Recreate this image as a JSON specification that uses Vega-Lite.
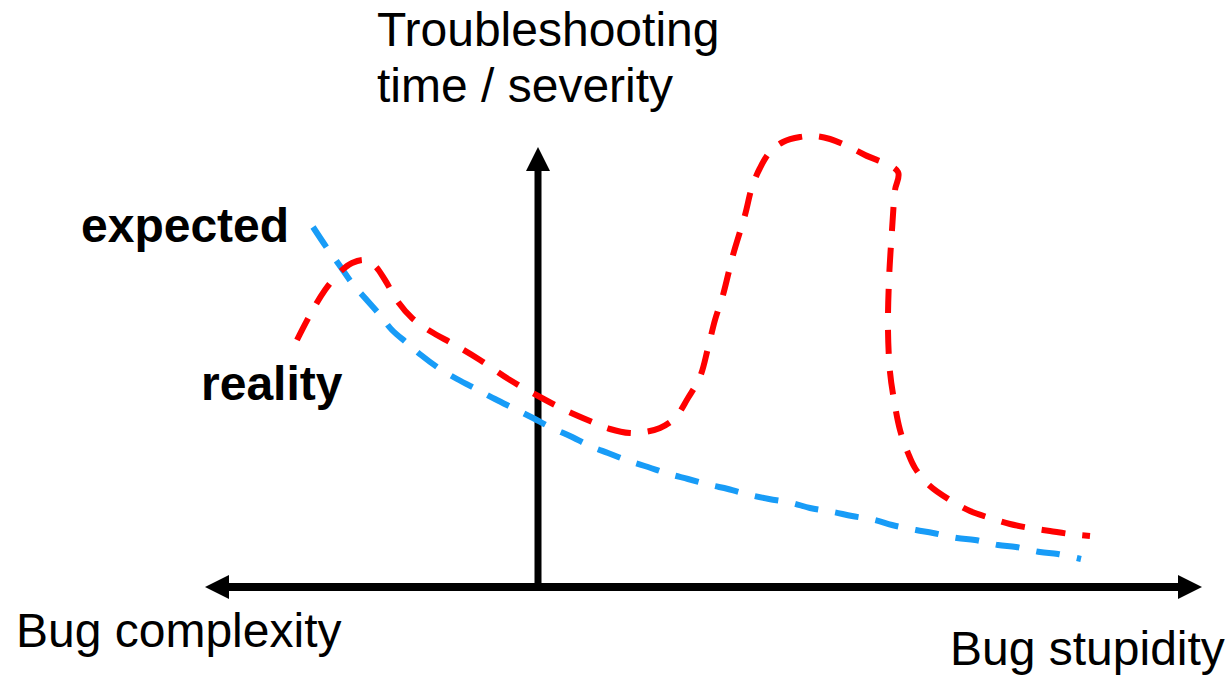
{
  "$schema": "https://vega.github.io/schema/vega-lite/v6.json",
  "width": 1227,
  "height": 676,
  "padding": 0,
  "autosize": {"type": "fit", "contains": "padding"},
  "background": "white",
  "config": {"view": {"stroke": null}},
  "datasets": {
    "red": [
      {"i": 1, "x": -24.1, "y": 24.7}, {"i": 2, "x": -22.8, "y": 27.2}, {"i": 3, "x": -21.3, "y": 29.7},
      {"i": 4, "x": -19.8, "y": 31.5}, {"i": 5, "x": -18.6, "y": 32.4}, {"i": 6, "x": -17.3, "y": 32.7},
      {"i": 7, "x": -16.3, "y": 32.1}, {"i": 8, "x": -15.3, "y": 30.7}, {"i": 9, "x": -14.0, "y": 28.5},
      {"i": 10, "x": -12.6, "y": 26.9}, {"i": 11, "x": -10.8, "y": 25.6}, {"i": 12, "x": -8.3, "y": 24.2},
      {"i": 13, "x": -5.8, "y": 22.7}, {"i": 14, "x": -2.8, "y": 20.7}, {"i": 15, "x": 0.2, "y": 19.0},
      {"i": 16, "x": 2.7, "y": 17.7}, {"i": 17, "x": 5.2, "y": 16.6}, {"i": 18, "x": 7.2, "y": 15.8},
      {"i": 19, "x": 9.2, "y": 15.4}, {"i": 20, "x": 10.7, "y": 15.5}, {"i": 21, "x": 12.2, "y": 15.9},
      {"i": 22, "x": 13.7, "y": 16.9}, {"i": 23, "x": 15.0, "y": 18.9}, {"i": 24, "x": 16.2, "y": 21.0},
      {"i": 25, "x": 17.0, "y": 23.9}, {"i": 26, "x": 17.7, "y": 26.7}, {"i": 27, "x": 18.5, "y": 29.2},
      {"i": 28, "x": 19.5, "y": 33.2}, {"i": 29, "x": 20.7, "y": 37.2}, {"i": 30, "x": 21.4, "y": 40.0},
      {"i": 31, "x": 22.2, "y": 41.9}, {"i": 32, "x": 23.2, "y": 43.5}, {"i": 33, "x": 24.5, "y": 44.5},
      {"i": 34, "x": 26.2, "y": 45.0}, {"i": 35, "x": 27.7, "y": 45.1}, {"i": 36, "x": 29.2, "y": 44.8},
      {"i": 37, "x": 30.7, "y": 44.2}, {"i": 38, "x": 32.7, "y": 43.2}, {"i": 39, "x": 36.0, "y": 41.5},
      {"i": 40, "x": 35.7, "y": 39.7}, {"i": 41, "x": 35.4, "y": 35.7}, {"i": 42, "x": 35.1, "y": 30.7},
      {"i": 43, "x": 35.0, "y": 25.7}, {"i": 44, "x": 35.2, "y": 21.5}, {"i": 45, "x": 35.6, "y": 18.7},
      {"i": 46, "x": 36.2, "y": 15.7}, {"i": 47, "x": 37.0, "y": 13.4}, {"i": 48, "x": 37.7, "y": 11.9},
      {"i": 49, "x": 39.2, "y": 10.1}, {"i": 50, "x": 41.2, "y": 8.7}, {"i": 51, "x": 43.2, "y": 7.6},
      {"i": 52, "x": 45.2, "y": 6.9}, {"i": 53, "x": 47.2, "y": 6.3}, {"i": 54, "x": 49.2, "y": 5.9},
      {"i": 55, "x": 51.2, "y": 5.6}, {"i": 56, "x": 53.2, "y": 5.3}, {"i": 57, "x": 55.2, "y": 5.1}
    ],
    "blue": [
      {"i": 1, "x": -22.5, "y": 36.0}, {"i": 2, "x": -21.1, "y": 33.9}, {"i": 3, "x": -19.8, "y": 32.1},
      {"i": 4, "x": -18.6, "y": 30.4}, {"i": 5, "x": -17.3, "y": 28.9}, {"i": 6, "x": -15.8, "y": 27.2},
      {"i": 7, "x": -14.6, "y": 25.7}, {"i": 8, "x": -13.1, "y": 24.4}, {"i": 9, "x": -11.7, "y": 23.2},
      {"i": 10, "x": -9.8, "y": 21.8}, {"i": 11, "x": -8.1, "y": 20.8}, {"i": 12, "x": -6.0, "y": 19.7},
      {"i": 13, "x": -4.3, "y": 18.8}, {"i": 14, "x": -2.3, "y": 17.8}, {"i": 15, "x": -0.7, "y": 17.0},
      {"i": 16, "x": 1.4, "y": 15.9}, {"i": 17, "x": 3.2, "y": 15.1}, {"i": 18, "x": 5.2, "y": 14.1},
      {"i": 19, "x": 7.0, "y": 13.4}, {"i": 20, "x": 9.1, "y": 12.6}, {"i": 21, "x": 11.0, "y": 12.0},
      {"i": 22, "x": 13.1, "y": 11.3}, {"i": 23, "x": 15.0, "y": 10.8}, {"i": 24, "x": 17.2, "y": 10.2},
      {"i": 25, "x": 19.0, "y": 9.8}, {"i": 26, "x": 21.2, "y": 9.2}, {"i": 27, "x": 23.1, "y": 8.8},
      {"i": 28, "x": 25.4, "y": 8.4}, {"i": 29, "x": 27.2, "y": 7.9}, {"i": 30, "x": 29.5, "y": 7.5},
      {"i": 31, "x": 31.4, "y": 7.1}, {"i": 32, "x": 33.7, "y": 6.7}, {"i": 33, "x": 35.4, "y": 6.2},
      {"i": 34, "x": 37.8, "y": 5.7}, {"i": 35, "x": 39.5, "y": 5.4}, {"i": 36, "x": 41.9, "y": 4.9},
      {"i": 37, "x": 43.7, "y": 4.7}, {"i": 38, "x": 46.0, "y": 4.2}, {"i": 39, "x": 47.8, "y": 4.0},
      {"i": 40, "x": 50.2, "y": 3.5}, {"i": 41, "x": 52.0, "y": 3.3}, {"i": 42, "x": 54.3, "y": 2.8}
    ],
    "hAxis": [{"x": -32.1, "x2": 65.2, "y": 0}],
    "vAxis": [{"x": 0, "y": 0, "y2": 42.8}],
    "heads": [
      {"dir": "left", "x": -32.1, "y": 0},
      {"dir": "right", "x": 65.2, "y": 0},
      {"dir": "up", "x": 0, "y": 42.8}
    ],
    "labels": [
      {"label": "Troubleshooting", "x": -16.1, "y": 54.1},
      {"label": "time / severity", "x": -16.1, "y": 48.5},
      {"label": "Bug complexity", "x": -52.2, "y": -6.0},
      {"label": "Bug stupidity", "x": 41.2, "y": -7.8}
    ],
    "boldLabels": [
      {"label": "expected", "x": -45.7, "y": 34.5},
      {"label": "reality", "x": -33.7, "y": 18.7}
    ]
  },
  "layer": [
    {
      "data": {"name": "hAxis"},
      "mark": {"type": "rule", "color": "black", "strokeWidth": 8},
      "encoding": {
        "x": {"field": "x", "type": "quantitative", "scale": {"domain": [-53.8, 68.9], "nice": false, "zero": false}, "axis": null},
        "x2": {"field": "x2"},
        "y": {"field": "y", "type": "quantitative", "scale": {"domain": [-8.9, 58.7], "nice": false, "zero": false}, "axis": null}
      }
    },
    {
      "data": {"name": "vAxis"},
      "mark": {"type": "rule", "color": "black", "strokeWidth": 7},
      "encoding": {
        "x": {"field": "x", "type": "quantitative", "axis": null},
        "y": {"field": "y", "type": "quantitative", "axis": null},
        "y2": {"field": "y2"}
      }
    },
    {
      "data": {"name": "heads"},
      "mark": {"type": "point", "filled": true, "color": "black", "size": 576, "opacity": 1, "strokeWidth": 0},
      "encoding": {
        "x": {"field": "x", "type": "quantitative", "axis": null},
        "y": {"field": "y", "type": "quantitative", "axis": null},
        "shape": {
          "field": "dir", "type": "nominal", "legend": null,
          "scale": {"domain": ["left", "right", "up"], "range": ["M-1,0L1,-1L1,1Z", "M1,0L-1,-1L-1,1Z", "M0,-1L1,1L-1,1Z"]}
        }
      }
    },
    {
      "data": {"name": "blue"},
      "mark": {"type": "line", "color": "#189cf7", "strokeWidth": 6, "strokeDash": [24, 17], "strokeCap": "butt", "interpolate": "catmull-rom"},
      "encoding": {
        "x": {"field": "x", "type": "quantitative", "axis": null},
        "y": {"field": "y", "type": "quantitative", "axis": null},
        "order": {"field": "i", "type": "quantitative"}
      }
    },
    {
      "data": {"name": "red"},
      "mark": {"type": "line", "color": "#ff0000", "strokeWidth": 6, "strokeDash": [24, 17], "strokeCap": "butt", "interpolate": "catmull-rom"},
      "encoding": {
        "x": {"field": "x", "type": "quantitative", "axis": null},
        "y": {"field": "y", "type": "quantitative", "axis": null},
        "order": {"field": "i", "type": "quantitative"}
      }
    },
    {
      "data": {"name": "labels"},
      "mark": {"type": "text", "font": "Liberation Sans", "fontSize": 48, "align": "left", "baseline": "alphabetic", "color": "black"},
      "encoding": {
        "x": {"field": "x", "type": "quantitative", "axis": null},
        "y": {"field": "y", "type": "quantitative", "axis": null},
        "text": {"field": "label", "type": "nominal"}
      }
    },
    {
      "data": {"name": "boldLabels"},
      "mark": {"type": "text", "font": "Liberation Sans", "fontSize": 48, "fontWeight": "bold", "align": "left", "baseline": "alphabetic", "color": "black"},
      "encoding": {
        "x": {"field": "x", "type": "quantitative", "axis": null},
        "y": {"field": "y", "type": "quantitative", "axis": null},
        "text": {"field": "label", "type": "nominal"}
      }
    }
  ]
}
